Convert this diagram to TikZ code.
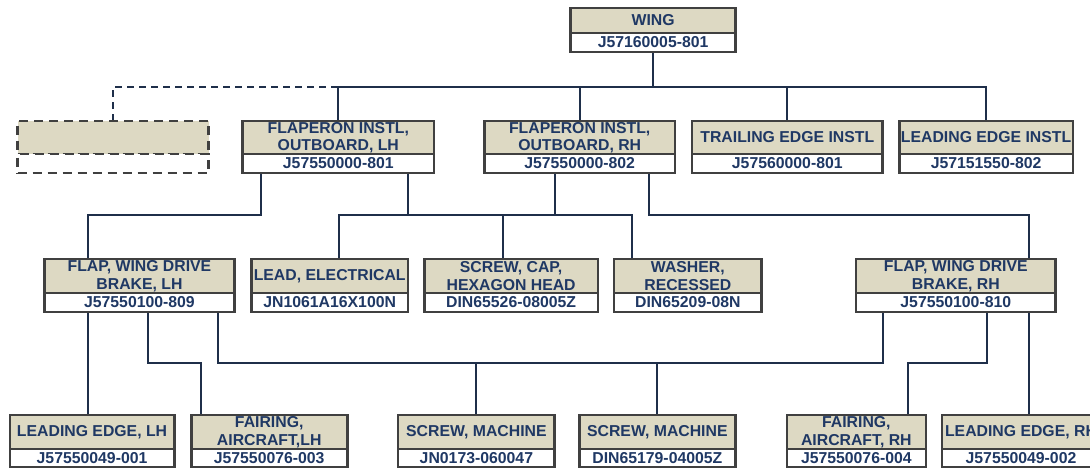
\documentclass[tikz,border=0pt]{standalone}
\usepackage{fontspec}
\setmainfont{Liberation Sans}
\usetikzlibrary{calc}
\definecolor{partfill}{HTML}{DDD9C3}
\definecolor{frame}{HTML}{404040}
\definecolor{ink}{HTML}{1F3864}
\definecolor{wire}{HTML}{1F2F4A}
\pgfdeclarelayer{wires}
\pgfsetlayers{wires,main}
\tikzset{
  sect/.style={draw=frame, line width=2.6pt, inner sep=0pt, outer sep=0pt,
    text=ink, align=center, anchor=north west,
    font=\bfseries\fontsize{15.8}{17.5}\selectfont},
  titlebox/.style={sect, fill=partfill},
  numbox/.style={sect, fill=white},
  spare/.style={dash pattern=on 9pt off 6pt},
  conn/.style={draw=wire, line width=2pt},
}
% part box: name, left, right, top, divider, bottom, title, part number
\newcommand\partbox[9][]{%
  \node[titlebox,#1, minimum width={#4-#3}, minimum height={#6-#5}]
    (#2) at (#3,#5) {#8};
  \node[numbox,#1, minimum width={#4-#3}, minimum height={#7-#6}]
    (#2n) at (#2.south west) {#9};}
\begin{document}
\begin{tikzpicture}[x=1pt,y=-1pt]
\useasboundingbox (0,0) rectangle (1090,468);
\clip (0,0) rectangle (1090,468);

% top level
\partbox{wing}{570.5}{735.7}{8}{33}{52}{WING}{J57160005-801}

% installations
\partbox[spare]{blank}{17.5}{208.7}{121}{154}{173}{}{}
\partbox{flapL}{242.7}{433.9}{121}{154}{173}{FLAPERON INSTL,\\OUTBOARD, LH}{J57550000-801}
\partbox{flapR}{484.4}{675}{121}{154}{173}{FLAPERON INSTL,\\OUTBOARD, RH}{J57550000-802}
\partbox{trail}{691.9}{882.7}{121}{154}{173}{TRAILING EDGE INSTL}{J57560000-801}
\partbox{leadI}{899.2}{1073}{121}{154}{173}{LEADING EDGE INSTL}{J57151550-802}

% second level
\partbox{fwdL}{44.2}{234.7}{259}{293}{312}{FLAP, WING DRIVE\\BRAKE, LH}{J57550100-809}
\partbox{leadE}{251.5}{407.9}{259}{293}{312}{LEAD, ELECTRICAL}{JN1061A16X100N}
\partbox{screwC}{424.4}{597.9}{259}{293}{312}{SCREW, CAP,\\HEXAGON HEAD}{DIN65526-08005Z}
\partbox{washer}{614}{761.7}{259}{293}{312}{WASHER,\\RECESSED}{DIN65209-08N}
\partbox{fwdR}{856}{1055.6}{259}{293}{312}{FLAP, WING DRIVE\\BRAKE, RH}{J57550100-810}

% third level
\partbox{leLH}{9.8}{174.3}{415}{449}{467}{LEADING EDGE, LH}{J57550049-001}
\partbox{fairL}{191.2}{347.2}{415}{449}{467}{FAIRING,\\AIRCRAFT,LH}{J57550076-003}
\partbox{screwA}{398.1}{554.7}{415}{449}{467}{SCREW, MACHINE}{JN0173-060047}
\partbox{screwB}{579.3}{735.4}{415}{449}{467}{SCREW, MACHINE}{DIN65179-04005Z}
\partbox{fairR}{786.9}{925.8}{415}{449}{467}{FAIRING,\\AIRCRAFT, RH}{J57550076-004}
\partbox{leRH}{942}{1100}{415}{449}{467}{LEADING EDGE, RH}{J57550049-002}

\begin{pgfonlayer}{wires}
  \coordinate (bus1) at (0,87);
  \coordinate (bus2) at (0,215);
  \coordinate (bus3) at (0,363);

  % wing to installations
  \draw[conn] (wingn.south) -- (wingn.south |- bus1);
  \draw[conn] (flapL.north) |- (leadI.north |- bus1) -- (leadI.north);
  \draw[conn] (flapR.north) -- (flapR.north |- bus1);
  \draw[conn] (trail.north) -- (trail.north |- bus1);
  \draw[conn, dash pattern=on 7pt off 5pt] (blank.north) |- (flapL.north |- bus1);

  % flaperon ports
  \coordinate (pA) at ($(flapLn.south west)+(17.8,0)$);
  \coordinate (pB) at ($(flapLn.south east)+(-26.3,0)$);
  \coordinate (pC) at ($(flapRn.south west)+(70.3,0)$);
  \coordinate (pD) at ($(flapRn.south east)+(-25.6,0)$);
  \coordinate (qLE) at ($(leadE.north west)+(87,0)$);
  \coordinate (qSC) at ($(screwC.north west)+(78.2,0)$);
  \coordinate (qWA) at ($(washer.north west)+(18,0)$);
  \coordinate (qFL) at ($(fwdL.north west)+(43.5,0)$);
  \coordinate (qFR) at ($(fwdR.north east)+(-26.3,0)$);

  \draw[conn] (pA) -- (pA |- bus2) -| (qFL);
  \draw[conn] (qLE) |- (qWA |- bus2) -- (qWA);
  \draw[conn] (pB) -- (pB |- bus2);
  \draw[conn] (pC) -- (pC |- bus2);
  \draw[conn] (qSC) -- (qSC |- bus2);
  \draw[conn] (pD) -- (pD |- bus2) -| (qFR);

  % flap drive brake ports
  \coordinate (pE) at ($(fwdLn.south west)+(43.5,0)$);
  \coordinate (pF) at ($(fwdLn.south west)+(103.8,0)$);
  \coordinate (pG) at ($(fwdLn.south east)+(-17.2,0)$);
  \coordinate (pH) at ($(fwdRn.south west)+(26.7,0)$);
  \coordinate (pI) at ($(fwdRn.south west)+(130.5,0)$);
  \coordinate (pJ) at ($(fwdRn.south east)+(-26.3,0)$);
  \coordinate (qFA) at ($(fairL.north west)+(9.4,0)$);
  \coordinate (qFB) at ($(fairR.north east)+(-17.5,0)$);

  \draw[conn] (pE) -- (pE |- leLH.north);
  \draw[conn] (pF) -- (pF |- bus3) -| (qFA);
  \draw[conn] (pG) -- (pG |- bus3) -| (pH);
  \draw[conn] (screwA.north) -- (screwA.north |- bus3);
  \draw[conn] (screwB.north) -- (screwB.north |- bus3);
  \draw[conn] (pI) -- (pI |- bus3) -| (qFB);
  \draw[conn] (pJ) -- (pJ |- leRH.north);
\end{pgfonlayer}
\end{tikzpicture}
\end{document}
